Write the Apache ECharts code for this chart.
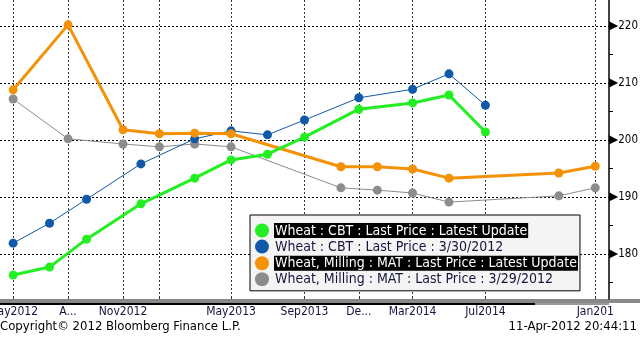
<!DOCTYPE html>
<html>
<head>
<meta charset="utf-8">
<script src="https://cdn.jsdelivr.net/npm/echarts@6/dist/echarts.min.js"></script>
<style>
html,body{margin:0;padding:0;background:#fff;}
#chart{width:640px;height:338px;}
</style>
</head>
<body>
<div id="chart"></div>
<script>
// ---- data ----
const cbtDates = ['2012-05-01','2012-07-01','2012-09-01','2012-12-01','2013-03-01','2013-05-01','2013-07-01','2013-09-01','2013-12-01','2014-03-01','2014-05-01','2014-07-01'];
const cbtLatest = [176.3,177.7,182.6,188.8,193.3,196.5,197.5,200.5,205.4,206.5,207.9,201.4];
const cbtMar30  = [181.9,185.4,189.6,195.8,200.2,201.6,200.9,203.5,207.4,208.9,211.6,206.1];
const matDates = ['2012-05-01','2012-08-01','2012-11-01','2013-01-01','2013-03-01','2013-05-01','2013-11-01','2014-01-01','2014-03-01','2014-05-01','2014-11-01','2015-01-01'];
const matLatest = [208.8,220.2,201.8,201.1,201.2,201.1,195.3,195.3,194.9,193.3,194.2,195.4];
const matMar29  = [207.2,200.2,199.3,198.8,199.3,198.8,191.6,191.2,190.7,189.1,190.2,191.6];
const seriesNames = [
  'Wheat : CBT : Last Price : Latest Update',
  'Wheat : CBT : Last Price : 3/30/2012',
  'Wheat, Milling : MAT : Last Price : Latest Update',
  'Wheat, Milling : MAT : Last Price : 3/29/2012'
];
const xTickDates = ['2012-05-01','2012-08-01','2012-11-01','2013-01-01','2013-05-01','2013-09-01','2013-12-01','2014-03-01','2014-07-01','2015-01-01'];
const xTickLabels = ['May2012','A...','Nov2012','','May2013','Sep2013','De...','Mar2014','Jul2014','Jan201'];
const xStartDate = '2012-04-09';
const xEndDate = '2015-01-24';
const yTicks = [180,190,200,210,220];
const yMinorTicks = [175,185,195,205,215];
const copyrightText = 'Copyright\u00a9 2012 Bloomberg Finance L.P.';
const stampText = '11-Apr-2012 20:44:11';

// ---- build ----
// x values are day counts from the axis start date
const utc = s => { const a = s.split('-').map(Number); return Date.UTC(a[0], a[1]-1, a[2]); };
const P = s => Math.round((utc(s) - utc(xStartDate)) / 86400000);
const xTickVals = xTickDates.map(P);
const labelMap = {};
xTickVals.forEach((v,i)=>{ labelMap[v] = xTickLabels[i]; });
const pair = (dates, vals) => dates.map((d,i)=>[P(d), vals[i]]);

const font = '"DejaVu Sans Condensed", "DejaVu Sans", sans-serif';
const mkSeries = (name, dates, vals, color, width) => ({
  name, type:'line', data: pair(dates, vals),
  symbol:'circle', symbolSize:9, showSymbol:true,
  itemStyle:{color:color},
  lineStyle:{color:color, width:width},
  emphasis:{disabled:true}, animation:false, clip:false
});

const chart = echarts.init(document.getElementById('chart'), null, {renderer:'canvas'});
chart.setOption({
  backgroundColor:'#ffffff',
  animation:false,
  grid:{left:0, right:31, top:0, bottom:39, containLabel:false, outerBoundsMode:'none'},
  xAxis:{
    type:'value',
    min:0, max:P(xEndDate),
    axisLine:{show:false, onZero:false},
    axisTick:{show:true, customValues:xTickVals, inside:true, length:3, lineStyle:{color:'#333'}},
    axisLabel:{customValues:xTickVals, margin:7, fontSize:12, fontFamily:font, color:'#14143c',
      formatter: v => labelMap[v] !== undefined ? labelMap[v] : ''},
    splitLine:{show:true, lineStyle:{color:'#333', type:[2,2], width:1}}
  },
  yAxis:[{
    type:'value', position:'right',
    min:172.1, max:224.56,
    axisLine:{show:true, onZero:false, lineStyle:{color:'#000', width:1.5}},
    axisTick:{show:false, customValues:yTicks},
    axisLabel:{customValues:yTicks, margin:0, fontSize:11, fontFamily:font, color:'#000',
      formatter: v => '{t|\u25B6}{v|' + v + '}',
      rich:{t:{fontSize:12, fontFamily:'"DejaVu Sans"', color:'#000', padding:[0,0,0,0]}, v:{fontSize:11.5, fontFamily:font, color:'#000'}}},
    splitLine:{show:true, lineStyle:{color:'#000', type:[2,2], width:1}}
  },{
    type:'value', position:'right',
    min:172.1, max:224.56,
    axisLine:{show:false, onZero:false},
    axisTick:{show:true, customValues:yMinorTicks, inside:false, length:4, lineStyle:{color:'#000'}},
    axisLabel:{show:false},
    splitLine:{show:false}
  }],
  legend:{
    orient:'vertical', left:250, top:215,
    data:seriesNames,
    icon:'circle', itemWidth:14, itemHeight:14, itemGap:1.6,
    padding:[8,2,4,5],
    backgroundColor:'#f4f4f4', borderColor:'#000', borderWidth:1,
    selectedMode:false,
    textStyle:{fontSize:14, fontFamily:font, color:'#14143c',
      rich:{
        hl:{backgroundColor:'#000', color:'#fff', fontSize:14, fontFamily:font, padding:[1,1,0,1]},
        nm:{color:'#14143c', fontSize:14, fontFamily:font, padding:[1,1,0,1]}
      }},
    formatter: name => (name.indexOf('Latest Update') >= 0 ? '{hl|' : '{nm|') + name + '}'
  },
  graphic:[
    {type:'rect', shape:{x:0, y:299, width:640, height:4}, style:{fill:'#888'}, silent:true},
    {type:'rect', shape:{x:0, y:303, width:535, height:2}, style:{fill:'#000'}, silent:true},
    {type:'line', shape:{x1:535, y1:304, x2:609, y2:304}, style:{stroke:'#333', lineWidth:1}, silent:true},
    {type:'text', left:0, top:320, style:{text:copyrightText, fontSize:13, fontFamily:font, fill:'#000'}, silent:true},
    {type:'text', right:3, top:320, style:{text:stampText, fontSize:13, fontFamily:font, fill:'#000'}, silent:true}
  ],
  series:[
    mkSeries(seriesNames[3], matDates, matMar29, '#8c8c8c', 1),
    mkSeries(seriesNames[1], cbtDates, cbtMar30, '#0f59a8', 1),
    mkSeries(seriesNames[2], matDates, matLatest, '#f39207', 3),
    mkSeries(seriesNames[0], cbtDates, cbtLatest, '#22ee22', 3)
  ]
});
</script>
</body>
</html>
